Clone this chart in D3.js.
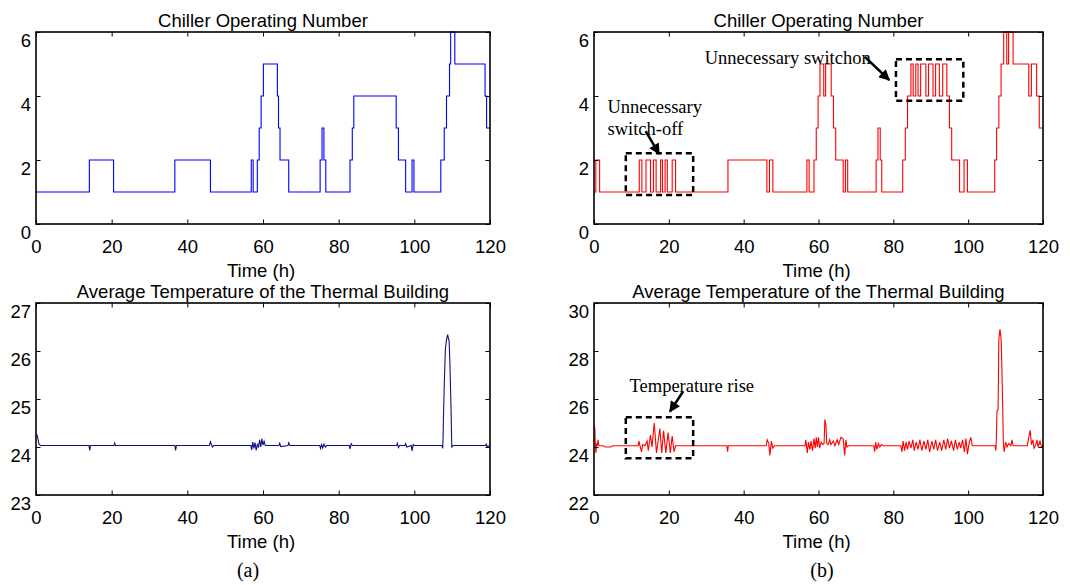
<!DOCTYPE html>
<html>
<head>
<meta charset="utf-8">
<script src="https://cdn.jsdelivr.net/npm/d3@7"></script>
<style>
    body { margin: 0; background: #fff; }
    text { font-family: "Liberation Sans", Arial, sans-serif; }
    .serif { font-family: "Liberation Serif", "Times New Roman", serif; }
</style>
</head>
<body>
<script>
"use strict";
(function(){

    // chiller count, (a) and (b): [time h, number] change points, held until the next one
    const chillerA = [[0,1],[14.1,2],[20.5,1],[36.7,2],[46.1,1],[56.9,2],[57.4,1],[58.5,2],[59.0,3],[59.5,4],
        [60.1,5],[63.8,4],[64.1,3],[64.5,2],[66.8,1],[75.1,2],[75.6,3],[76.1,2],[76.6,1],[83.0,2],[83.6,3],
        [84.0,4],[95.2,3],[95.8,2],[97.7,1],[99.4,2],[99.9,1],[107.0,2],[107.9,3],[108.5,4],[109.3,5],
        [109.6,6],[110.7,5],[118.7,4],[119.1,3],[120,3]]

    const chillerB = [[0,1],[0.5,2],[1.5,1],
        [12.1,2],[12.8,1],[13.9,2],[15.1,1],[15.9,2],[16.6,1],[17.8,2],[18.3,1],[19.0,2],[19.6,1],[20.9,2],[21.8,1],
        [35.8,2],[46.2,1],[46.9,2],[47.8,1],
        [56.9,2],[57.5,1],[58.8,2],[59.4,3],[59.9,4],[60.4,5],[61.4,4],[61.9,5],[63.4,4],[64.0,3],[64.6,2],
        [66.6,1],[67.2,2],[67.8,1],
        [75.4,2],[75.9,3],[76.5,2],[76.9,1],
        [82.5,2],[83.2,3],[83.8,4],[84.7,5],[85.3,4],[86.0,5],[86.6,4],[87.3,5],[88.7,4],[89.4,5],[90.6,4],
        [91.3,5],[92.3,4],[93.2,5],[94.3,4],[95.0,3],[95.6,2],[97.7,1],[98.9,2],[99.8,1],
        [107.1,2],[107.6,3],[108.2,4],[108.8,5],[109.5,6],[110.3,5],[110.8,6],[112.0,5],[116.2,4],[116.9,5],
        [118.3,4],[119.0,3],[120,3]]

    // average temperature, (a) and (b): [time h, degC]
    const tempA = [[0,24.25],[0.3,24.25],[0.8,24.06],[1.2,24.03],[14.0,24.03],[14.2,23.93],[14.4,24.03],
        [20.6,24.03],[20.8,24.08],[21.0,24.03],[36.7,24.03],[36.9,23.93],[37.1,24.03],[45.8,24.03],[46.1,24.11],
        [46.6,24.0],[47.0,24.03],[56.8,24.03],[57.0,23.94],[57.3,24.1],[57.6,23.97],[57.9,24.09],[58.2,23.93],
        [58.5,24.05],[58.8,24.0],[59.1,24.15],[59.4,24.0],[59.7,24.17],[60.0,24.04],[60.3,24.12],[60.6,24.03],
        [64.2,24.03],[64.4,24.08],[64.7,24.01],[66.6,24.03],[66.8,24.09],[67.1,24.03],[75.0,24.03],[75.2,23.97],
        [75.5,24.05],[75.8,23.98],[76.1,24.06],[76.5,24.0],[76.8,24.03],[82.8,24.03],[83.0,23.96],[83.3,24.07],
        [83.6,24.03],[95.3,24.03],[95.5,24.08],[95.8,23.99],[96.1,24.03],[97.5,24.03],[97.7,24.07],[98.0,24.0],
        [99.2,24.03],[99.4,23.92],[99.7,24.05],[100.0,24.03],[107.3,24.03],[107.5,23.97],[107.6,24.2],
        [107.7,24.63],[107.9,25.26],[108.2,26.03],[108.5,26.23],[108.8,26.34],[109.2,26.2],[109.4,25.75],
        [109.7,24.81],[109.9,24.0],[110.2,24.03],[118.8,24.03],[119.0,24.06],[119.2,24.01],[120,24.03]]

    const tempB = [[0,24.85],[0.2,24.8],[0.35,24.1],[0.5,23.75],[0.7,24.15],[0.9,24.05],[1.1,24.3],[1.3,24.05],
        [2.5,24.05],[3.0,24.0],[4.5,24.0],[5.0,24.05],
        [11.8,24.05],[12.0,24.25],[12.3,24.05],[12.7,23.8],[13.0,24.1],[13.6,24.05],[14.2,24.25],[14.5,23.85],
        [15.1,24.5],[15.5,24.0],[16.1,25.0],[16.7,23.75],[17.6,24.77],[18.1,23.75],[18.6,24.67],[19.2,23.75],
        [19.8,24.6],[20.4,23.75],[20.9,24.46],[21.4,23.8],[21.8,24.05],
        [35.5,24.05],[35.7,23.8],[35.9,24.05],
        [46.0,24.05],[46.3,24.3],[46.7,24.15],[47.0,23.65],[47.4,24.25],[47.8,23.95],[48.2,24.05],
        [56.4,24.05],[56.6,24.3],[57.0,23.75],[57.3,24.2],[57.7,23.9],[58.0,24.25],[58.4,23.85],[58.8,24.35],
        [59.1,23.95],[59.4,24.4],[59.7,24.0],[60.0,24.4],[60.3,23.95],[60.7,24.2],[61.2,24.1],[61.5,24.15],
        [61.7,25.15],[62.0,24.9],[62.2,24.15],[62.6,24.1],[63.0,24.3],[63.3,24.1],[64.0,24.25],[64.4,24.05],
        [65.0,24.3],[65.4,24.1],[66.0,24.4],[66.6,24.35],[67.0,23.65],[67.3,24.3],[67.6,24.0],[68.0,24.05],
        [74.8,24.05],[75.0,23.8],[75.3,24.2],[75.6,23.9],[76.0,24.15],[76.4,24.0],[76.8,24.1],[77.2,24.05],
        [82.0,24.05],[82.3,23.8],[82.6,24.25],[83.0,23.85],[83.4,24.2],[83.8,23.9],[84.2,24.25],[84.7,23.95],
        [85.2,24.3],[85.6,23.85],[86.1,24.2],[86.6,23.9],[87.1,24.3],[87.6,23.85],[88.2,24.25],[88.7,23.9],
        [89.2,24.3],[89.7,23.8],[90.3,24.25],[90.8,23.9],[91.3,24.3],[91.8,23.85],[92.4,24.2],[92.9,23.85],
        [93.5,24.3],[94.0,23.9],[94.5,24.35],[95.0,23.95],[95.5,24.25],[96.1,23.85],[96.6,24.3],[97.1,23.9],
        [97.6,24.2],[98.0,23.95],[98.5,24.3],[99.0,23.8],[99.4,24.35],[99.8,23.7],[100.3,24.2],[100.7,24.4],
        [101.1,24.05],
        [107.2,24.05],[107.4,23.85],[107.5,24.2],[107.7,25.5],[108.0,25.55],[108.2,28.5],[108.5,28.9],
        [108.8,28.5],[109.0,27.4],[109.2,25.9],[109.4,24.2],[109.6,23.8],[110.0,24.2],[110.4,24.0],
        [110.8,24.15],[111.4,24.05],[111.7,24.3],[112.0,24.05],
        [115.8,24.05],[116.2,24.4],[116.6,24.7],[116.9,24.1],[117.3,24.3],[117.6,23.95],[118.1,24.1],
        [118.4,24.3],[118.7,24.0],[119.2,24.25],[119.6,24.0],[120,24.05]]

    const timeTicks = [0, 20, 40, 60, 80, 100, 120]
    const chillerTicks = [0, 2, 4, 6]
    const tempTicksA = [23, 24, 25, 26, 27]
    const tempTicksB = [22, 24, 26, 28, 30]

    const titles = ["Chiller Operating Number", "Average Temperature of the Thermal Building"]
    const xLabel = "Time (h)"
    const captions = ["(a)", "(b)"]

    const svg = d3.select("body").append("svg")
        .attr("width", 1070)
        .attr("height", 585)

    svg.append("defs").append("marker")
        .attr("id", "head")
        .attr("viewBox", "0 0 10 10")
        .attr("refX", 9)
        .attr("refY", 5)
        .attr("markerUnits", "userSpaceOnUse")
        .attr("markerWidth", 13)
        .attr("markerHeight", 11)
        .attr("orient", "auto")
        .append("path")
        .attr("d", "M0,0 L10,5 L0,10 Z")
        .attr("fill", "black")

    const cols = [{left: 36, right: 490}, {left: 594, right: 1043}]
    const rows = [{top: 32, bottom: 224}, {top: 303, bottom: 495}]

    function drawPanel(col, row, opts) {
        const x = d3.scaleLinear().domain([0, 120]).range([col.left, col.right])
        const y = d3.scaleLinear().domain(opts.domain).range([row.bottom, row.top])
        const g = svg.append("g")

        g.append("path")
            .datum(opts.data)
            .attr("fill", "none")
            .attr("stroke", opts.color)
            .attr("stroke-width", 1.1)
            .attr("d", d3.line()
                .x(d => x(d[0]))
                .y(d => y(d[1]))
                .curve(opts.step ? d3.curveStepAfter : d3.curveLinear))

        const tick = 4.5
        const fmt = d3.format("d")
        const xAxis = g.append("g")
            .attr("transform", "translate(0," + row.bottom + ")")
            .call(d3.axisBottom(x).tickValues(timeTicks).tickFormat(fmt).tickSizeInner(-tick).tickSizeOuter(0).tickPadding(16))
        xAxis.selectAll("text").attr("dy", "0.71em")
        g.append("g")
            .attr("transform", "translate(0," + row.top + ")")
            .call(d3.axisTop(x).tickValues(timeTicks).tickSizeInner(-tick).tickSizeOuter(0).tickFormat(""))

        const yAxis = g.append("g")
            .attr("transform", "translate(" + col.left + ",0)")
            .call(d3.axisLeft(y).tickValues(opts.ticks).tickFormat(fmt).tickSizeInner(-tick).tickSizeOuter(0).tickPadding(5))
        yAxis.selectAll("text").attr("dy", "0.76em")
        g.append("g")
            .attr("transform", "translate(" + col.right + ",0)")
            .call(d3.axisRight(y).tickValues(opts.ticks).tickSizeInner(-tick).tickSizeOuter(0).tickFormat(""))

        g.selectAll(".domain").remove()
        g.selectAll(".tick line").attr("stroke", "black").attr("stroke-width", 1)
        g.selectAll(".tick text")
            .attr("fill", "black")
            .style("font-size", "18.5px")
            .style("font-family", "'Liberation Sans', Arial, sans-serif")

        g.append("rect")
            .attr("x", col.left)
            .attr("y", row.top)
            .attr("width", col.right - col.left)
            .attr("height", row.bottom - row.top)
            .attr("fill", "none")
            .attr("stroke", "black")
            .attr("stroke-width", 1.6)

        g.append("text")
            .attr("x", (col.left + col.right) / 2)
            .attr("y", row.top - 5.5)
            .attr("text-anchor", "middle")
            .style("font-size", "18.5px")
            .text(opts.title)

        g.append("text")
            .attr("x", (col.left + col.right) / 2 - 2)
            .attr("y", row.bottom + 53)
            .attr("text-anchor", "middle")
            .style("font-size", "18.5px")
            .text(xLabel)

        return {x: x, y: y}
    }

    function dashedBox(s, x0, x1, y0, y1) {
        svg.append("rect")
            .attr("x", s.x(x0))
            .attr("y", s.y(y1))
            .attr("width", s.x(x1) - s.x(x0))
            .attr("height", s.y(y0) - s.y(y1))
            .attr("fill", "none")
            .attr("stroke", "black")
            .attr("stroke-width", 2.5)
            .attr("stroke-dasharray", "6,4")
    }

    function arrow(s, x0, y0, x1, y1) {
        svg.append("line")
            .attr("x1", s.x(x0)).attr("y1", s.y(y0))
            .attr("x2", s.x(x1)).attr("y2", s.y(y1))
            .attr("stroke", "black")
            .attr("stroke-width", 2.5)
            .attr("marker-end", "url(#head)")
    }

    function note(s, x0, y0, label) {
        svg.append("text")
            .attr("class", "serif")
            .attr("x", s.x(x0))
            .attr("y", s.y(y0))
            .style("font-size", "18.5px")
            .text(label)
    }

    drawPanel(cols[0], rows[0], {data: chillerA, domain: [0, 6], ticks: chillerTicks, color: "#0000ff", step: true, title: titles[0]})
    const sB = drawPanel(cols[1], rows[0], {data: chillerB, domain: [0, 6], ticks: chillerTicks, color: "#ff0000", step: true, title: titles[0]})
    drawPanel(cols[0], rows[1], {data: tempA, domain: [23, 27], ticks: tempTicksA, color: "#10108a", step: false, title: titles[1]})
    const tB = drawPanel(cols[1], rows[1], {data: tempB, domain: [22, 30], ticks: tempTicksB, color: "#ff0000", step: false, title: titles[1]})

    dashedBox(sB, 8.5, 26.5, 0.91, 2.21)
    note(sB, 3.6, 3.47, "Unnecessary")
    note(sB, 3.6, 2.78, "switch-off")
    arrow(sB, 13.8, 2.9, 17.4, 2.19)

    dashedBox(sB, 80.7, 98.7, 3.85, 5.15)
    note(sB, 29.6, 5.0, "Unnecessary switchon")
    arrow(sB, 72.4, 5.22, 78.9, 4.5)

    dashedBox(tB, 8.5, 26.5, 23.53, 25.24)
    note(tB, 9.5, 26.31, "Temperature rise")
    arrow(tB, 23.8, 26.31, 20.3, 25.48)

    svg.selectAll(".caption")
        .data(captions)
        .enter()
        .append("text")
        .attr("class", "serif")
        .attr("x", (d, i) => i === 0 ? 248 : 822)
        .attr("y", 577)
        .attr("text-anchor", "middle")
        .style("font-size", "20px")
        .text(d => d)
})()
</script>
</body>
</html>
